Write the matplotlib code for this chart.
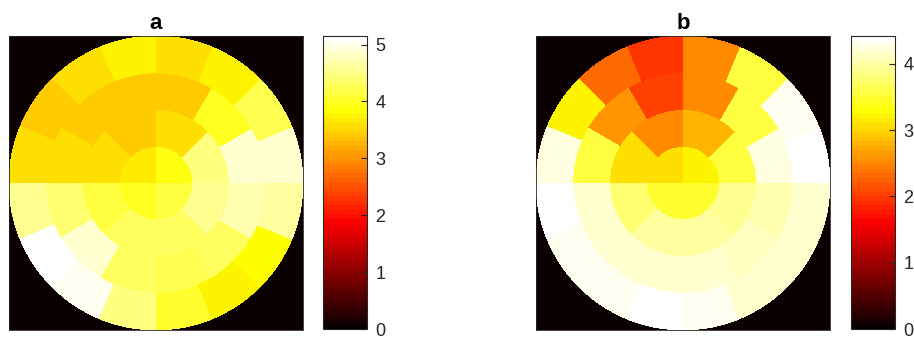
import numpy as np
import matplotlib
matplotlib.use('Agg')
import matplotlib.pyplot as plt
from matplotlib.patches import Wedge
from matplotlib.collections import PatchCollection
from matplotlib.colors import ListedColormap, Normalize

# ---- data ----
panel_titles = ['a', 'b']
ring_counts = [4, 8, 12, 16]   # segments per ring, inner -> outer, counter-clockwise from 3 o'clock

a_ring1 = [3.91, 3.67, 4.01, 4.17]
a_ring2 = [4.43, 3.59, 3.38, 3.55, 4.12, 4.27, 4.27, 4.53]
a_ring3 = [4.89, 3.96, 3.38, 3.38, 3.38, 3.60, 4.37, 4.84, 4.32, 4.22, 4.27, 4.73]
a_ring4 = [4.89, 4.22, 3.71, 3.55, 3.71, 3.60, 3.38, 3.60,
           4.58, 5.15, 5.02, 4.43, 4.07, 3.71, 3.86, 4.63]

b_ring1 = [3.23, 3.05, 3.49, 3.49]
b_ring2 = [3.58, 2.78, 2.49, 3.09, 3.76, 3.98, 3.98, 3.93]
b_ring3 = [4.24, 3.58, 2.50, 2.02, 2.56, 3.58, 4.15, 4.15, 4.20, 4.20, 4.11, 4.07]
b_ring4 = [4.42, 4.35, 3.54, 2.50, 1.94, 2.30, 3.23, 4.27,
           4.42, 4.33, 4.33, 4.42, 4.35, 4.20, 4.15, 4.20]

cbar_ticks_a = [0, 1, 2, 3, 4, 5]
cbar_ticks_b = [0, 1, 2, 3, 4]


def matlab_hot(m=64):
    n = int(3 * m / 8)
    r = np.concatenate([np.arange(1, n + 1) / n, np.ones(m - n)])
    g = np.concatenate([np.zeros(n), np.arange(1, n + 1) / n, np.ones(m - 2 * n)])
    b = np.concatenate([np.zeros(2 * n), np.arange(1, m - 2 * n + 1) / (m - 2 * n)])
    return ListedColormap(np.column_stack([r, g, b]))


cmap = matlab_hot(64)
plt.rcParams['font.family'] = ['Liberation Sans', 'DejaVu Sans']
dark = '#262626'

fig = plt.figure(figsize=(9.14, 3.38), dpi=100)
W, H = 914.0, 338.0


def bullseye(ax, cax, rings, title, ticks):
    vals = np.concatenate([np.asarray(r, float) for r in rings])
    norm = Normalize(vmin=0, vmax=vals.max())
    patches = []
    for i, cnt in enumerate(ring_counts):
        step = 360.0 / cnt
        for j in range(cnt):
            patches.append(Wedge((0, 0), i + 1, j * step, (j + 1) * step, width=1))
    pc = PatchCollection(patches, cmap=cmap, norm=norm, edgecolor='none',
                         linewidth=0, antialiased=False)
    pc.set_array(vals)
    ax.add_collection(pc)
    ax.set_facecolor(cmap(0))
    ax.set_xlim(-4, 4)
    ax.set_ylim(-4, 4)
    ax.set_aspect('equal')
    ax.set_xticks([])
    ax.set_yticks([])
    for s in ax.spines.values():
        s.set_color(dark)
        s.set_linewidth(0.6)
    ax.set_title(title, fontsize=16, fontweight='bold', pad=5, color='black')
    cb = fig.colorbar(pc, cax=cax, ticks=ticks)
    cb.outline.set_edgecolor(dark)
    cb.outline.set_linewidth(0.8)
    cax.tick_params(axis='y', direction='in', length=4, width=0.8, color=dark,
                    labelsize=13, labelcolor=dark, pad=6)


ax_a = fig.add_axes([9 / W, 8 / H, 294 / W, 294 / H])
cax_a = fig.add_axes([323 / W, 9 / H, 44 / W, 293 / H])
ax_b = fig.add_axes([536 / W, 8 / H, 294 / W, 294 / H])
cax_b = fig.add_axes([851 / W, 9 / H, 44 / W, 293 / H])

bullseye(ax_a, cax_a, [a_ring1, a_ring2, a_ring3, a_ring4], panel_titles[0], cbar_ticks_a)
bullseye(ax_b, cax_b, [b_ring1, b_ring2, b_ring3, b_ring4], panel_titles[1], cbar_ticks_b)

fig.savefig('out.png', dpi=100, facecolor='white')
